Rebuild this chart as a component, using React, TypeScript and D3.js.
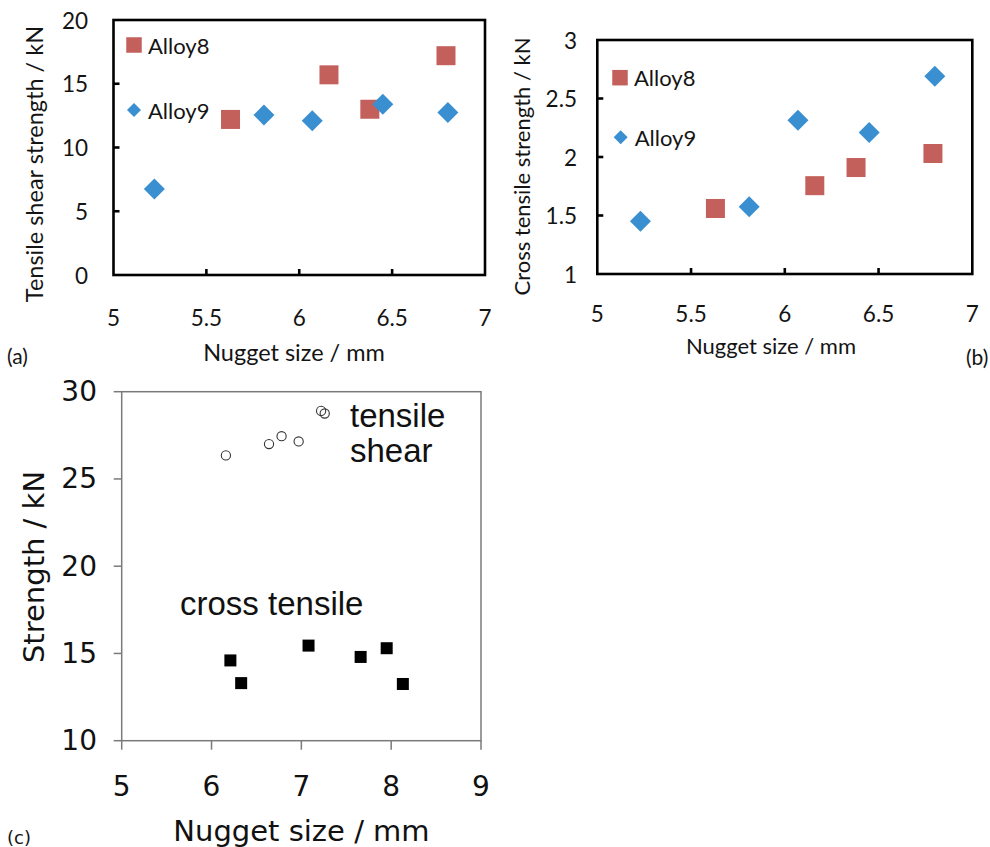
import React from "react";
import * as d3 from "d3";

// ---------- data ----------
// (a) tensile shear strength
const a8X = [5.63, 6.16, 6.38, 6.79];
const a8Y = [12.2, 15.7, 13.0, 17.2];
const a9X = [5.22, 5.81, 6.07, 6.45, 6.8];
const a9Y = [6.75, 12.55, 12.1, 13.4, 12.75];
// (b) cross tensile strength
const b8X = [5.63, 6.16, 6.38, 6.79];
const b8Y = [1.56, 1.755, 1.91, 2.03];
const b9X = [5.23, 5.81, 6.07, 6.45, 6.8];
const b9Y = [1.45, 1.575, 2.315, 2.21, 2.69];
// (c) strength
const cShearX = [6.16, 6.64, 6.78, 6.97, 7.22, 7.26];
const cShearY = [26.35, 27.0, 27.45, 27.15, 28.9, 28.75];
const cCrossX = [6.21, 6.33, 7.08, 7.66, 7.95, 8.13];
const cCrossY = [14.6, 13.3, 15.45, 14.8, 15.3, 13.25];

const abXTicks = [5, 5.5, 6, 6.5, 7];
const aYTicks = [0, 5, 10, 15, 20];
const bYTicks = [1, 1.5, 2, 2.5, 3];
const cXTicks = [5, 6, 7, 8, 9];
const cYTicks = [10, 15, 20, 25, 30];

const seriesNames = ["Alloy8", "Alloy9"];

const RED = "#C4605C";
const BLUE = "#3A8FD0";
const TXT = "#141414";
const CAL = "Lato, 'Open Sans', sans-serif";
const VER = "'DejaVu Sans', Verdana, sans-serif";
const ARI = "'Liberation Sans', Arial, sans-serif";

const Square = ({ cx, cy, s, fill }: any) => (
  <rect x={cx - s / 2} y={cy - s / 2} width={s} height={s} fill={fill} />
);
const Diamond = ({ cx, cy, r, fill }: any) => (
  <path d={`M${cx},${cy - r}L${cx + r},${cy}L${cx},${cy + r}L${cx - r},${cy}Z`} fill={fill} />
);

function ExcelPanel({
  xr, yr, yDomain, yTicks, xs8, ys8, xs9, ys9,
  yLabX, xLabY, yTitle, yTitleX, yTitleY, xTitleX, xTitleY, titleSize,
  leg8, leg9,
}: any) {
  const x = d3.scaleLinear().domain([5, 7]).range(xr);
  const y = d3.scaleLinear().domain(yDomain).range(yr);
  const fmt = (v: number) => String(v);
  return (
    <g>
      {/* markers */}
      {xs8.map((v: number, i: number) => (
        <Square key={"s" + i} cx={x(v)} cy={y(ys8[i])} s={19} fill={RED} />
      ))}
      {xs9.map((v: number, i: number) => (
        <Diamond key={"d" + i} cx={x(v)} cy={y(ys9[i])} r={10.5} fill={BLUE} />
      ))}
      {/* frame */}
      <rect x={xr[0]} y={yr[1]} width={xr[1] - xr[0]} height={yr[0] - yr[1]} fill="none" stroke="#000" strokeWidth={2.6} />
      {yTicks.slice(1, -1).map((t: number) => (
        <line key={"yt" + t} x1={xr[0]} x2={xr[0] + 6} y1={y(t)} y2={y(t)} stroke="#000" strokeWidth={2.6} />
      ))}
      {abXTicks.slice(1, -1).map((t: number) => (
        <line key={"xt" + t} x1={x(t)} x2={x(t)} y1={yr[0]} y2={yr[0] - 6} stroke="#000" strokeWidth={2.6} />
      ))}
      {/* tick labels */}
      {yTicks.map((t: number) => (
        <text key={"yl" + t} x={yLabX} y={y(t)} textAnchor="end" dominantBaseline="central" fontFamily={CAL} fontSize={22.5} fill={TXT}>{fmt(t)}</text>
      ))}
      {abXTicks.map((t: number) => (
        <text key={"xl" + t} x={x(t)} y={xLabY} textAnchor="middle" dominantBaseline="central" fontFamily={CAL} fontSize={22.5} fill={TXT}>{fmt(t)}</text>
      ))}
      {/* titles */}
      <text x={xTitleX} y={xTitleY} textAnchor="middle" dominantBaseline="central" fontFamily={CAL} fontSize={titleSize} fill={TXT}>Nugget size / mm</text>
      <text transform={`translate(${yTitleX},${yTitleY}) rotate(-90)`} textAnchor="middle" dominantBaseline="central" fontFamily={CAL} fontSize={titleSize} fill={TXT}>{yTitle}</text>
      {/* legend */}
      <Square cx={leg8[0]} cy={leg8[1]} s={15.5} fill={RED} />
      <text x={leg8[0] + 14} y={leg8[1]} dominantBaseline="central" fontFamily={CAL} fontSize={22} fill={TXT}>{seriesNames[0]}</text>
      <Diamond cx={leg9[0]} cy={leg9[1]} r={7} fill={BLUE} />
      <text x={leg9[0] + 14} y={leg9[1]} dominantBaseline="central" fontFamily={CAL} fontSize={22} fill={TXT}>{seriesNames[1]}</text>
    </g>
  );
}

function PanelC() {
  const xr = [121.7, 481];
  const yr = [740.7, 391.7];
  const x = d3.scaleLinear().domain([5, 9]).range(xr);
  const y = d3.scaleLinear().domain([10, 30]).range(yr);
  const gray = "#7a7a7a";
  return (
    <g>
      <rect x={xr[0]} y={yr[1]} width={xr[1] - xr[0]} height={yr[0] - yr[1]} fill="none" stroke={gray} strokeWidth={1.5} />
      {cYTicks.map((t) => (
        <line key={"yt" + t} x1={xr[0] - 8} x2={xr[0]} y1={y(t)} y2={y(t)} stroke={gray} strokeWidth={1.5} />
      ))}
      {cXTicks.map((t) => (
        <line key={"xt" + t} x1={x(t)} x2={x(t)} y1={yr[0]} y2={yr[0] + 9} stroke={gray} strokeWidth={1.5} />
      ))}
      {cYTicks.map((t) => (
        <text key={"yl" + t} x={97} y={y(t)} textAnchor="end" dominantBaseline="central" fontFamily={VER} fontSize={28} fill="#111">{t}</text>
      ))}
      {cXTicks.map((t) => (
        <text key={"xl" + t} x={x(t)} y={786} textAnchor="middle" dominantBaseline="central" fontFamily={VER} fontSize={28} fill="#111">{t}</text>
      ))}
      <text x={301.5} y={831} textAnchor="middle" dominantBaseline="central" fontFamily={VER} fontSize={29} fill="#111">Nugget size / mm</text>
      <text transform="translate(34,567) rotate(-90)" textAnchor="middle" dominantBaseline="central" fontFamily={VER} fontSize={29} fill="#111">Strength / kN</text>
      {cShearX.map((v, i) => (
        <circle key={"c" + i} cx={x(v)} cy={y(cShearY[i])} r={4.6} fill="none" stroke="#333" strokeWidth={1.1} />
      ))}
      {cCrossX.map((v, i) => (
        <rect key={"r" + i} x={x(v) - 6} y={y(cCrossY[i]) - 6} width={12} height={12} fill="#000" />
      ))}
      <text x={350} y={426.7} fontFamily={ARI} fontSize={33} fill="#111">tensile</text>
      <text x={350} y={461.7} fontFamily={ARI} fontSize={33} fill="#111">shear</text>
      <text x={180} y={615} fontFamily={ARI} fontSize={33} fill="#111">cross tensile</text>
    </g>
  );
}

export default function App() {
  return (
    <svg width={990} height={847} viewBox="0 0 990 847" style={{ position: "absolute", left: 0, top: 0, background: "#fff" }}>
      <rect width={990} height={847} fill="#fff" />
      <ExcelPanel
        xr={[113.5, 485]} yr={[275, 20]} yDomain={[0, 20]} yTicks={aYTicks}
        xs8={a8X} ys8={a8Y} xs9={a9X} ys9={a9Y}
        yLabX={88} xLabY={317} yTitle="Tensile shear strength / kN"
        yTitleX={34} yTitleY={164} xTitleX={294} xTitleY={352} titleSize={23.5}
        leg8={[134, 45]} leg9={[134, 110]}
      />
      <ExcelPanel
        xr={[597.3, 972.3]} yr={[274, 40]} yDomain={[1, 3]} yTicks={bYTicks}
        xs8={b8X} ys8={b8Y} xs9={b9X} ys9={b9Y}
        yLabX={577} xLabY={313} yTitle="Cross tensile strength / kN"
        yTitleX={521} yTitleY={166.5} xTitleX={771} xTitleY={345} titleSize={22}
        leg8={[620, 77.7]} leg9={[620.7, 137.3]}
      />
      <PanelC />
      <text x={7} y={355} dominantBaseline="central" fontFamily={CAL} fontSize={21} fill={TXT}>(a)</text>
      <text x={966} y={356} dominantBaseline="central" fontFamily={CAL} fontSize={21} fill={TXT}>(b)</text>
      <text x={7} y={837} dominantBaseline="central" fontFamily={VER} fontSize={18} fill={TXT}>(c)</text>
    </svg>
  );
}
